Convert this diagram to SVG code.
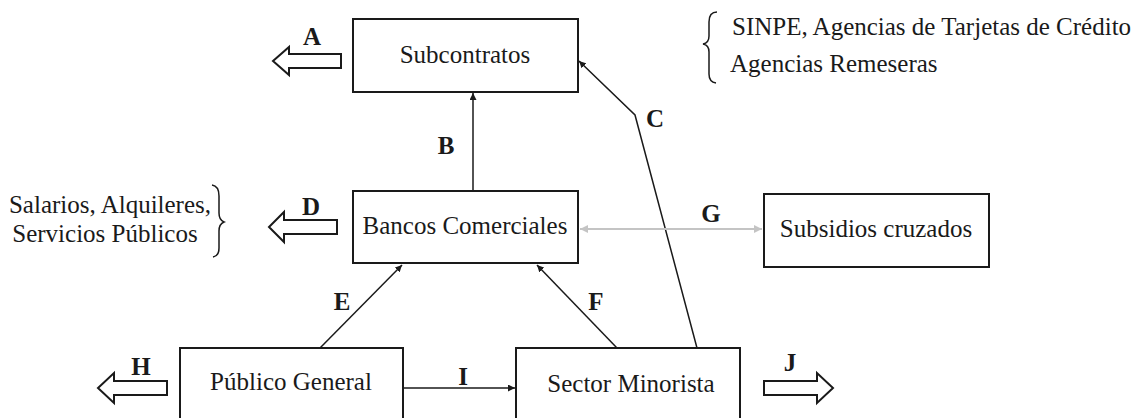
<svg xmlns="http://www.w3.org/2000/svg" width="1148" height="418" viewBox="0 0 1148 418">
<style>
.box{fill:#fff;stroke:#1a1a1a;stroke-width:2}
.t{font-family:"Liberation Serif","Times New Roman",serif;font-size:25px;fill:#1a1a1a;text-anchor:middle}
.note{font-family:"Liberation Serif","Times New Roman",serif;font-size:25px;fill:#1a1a1a}
.lbl{font-family:"Liberation Serif","Times New Roman",serif;font-size:25px;font-weight:bold;fill:#1a1a1a;text-anchor:middle}
.con{fill:none;stroke:#1a1a1a;stroke-width:1.5}
.gray{fill:none;stroke:#c4c4c4;stroke-width:2}
.big{fill:#fff;stroke:#1a1a1a;stroke-width:2;stroke-linejoin:miter}
.brace{fill:none;stroke:#1a1a1a;stroke-width:1.5}
</style>
<defs>
<marker id="ah" viewBox="0 0 10 10" refX="10" refY="5" markerWidth="7" markerHeight="7" markerUnits="userSpaceOnUse" orient="auto"><path d="M0,0 L10,5 L0,10 z" fill="#1a1a1a"/></marker>
<marker id="ahg" viewBox="0 0 10 10" refX="10" refY="5" markerWidth="8" markerHeight="8" markerUnits="userSpaceOnUse" orient="auto-start-reverse"><path d="M0,0 L10,5 L0,10 z" fill="#c4c4c4"/></marker>
</defs>
<rect width="1148" height="418" fill="#fff"/>

<g id="connectors">
<line class="con" x1="473" y1="191" x2="473" y2="93" marker-end="url(#ah)"/>
<polyline class="con" points="697,348 635,115 579,61" marker-end="url(#ah)"/>
<line class="con" x1="320" y1="348" x2="402" y2="265" marker-end="url(#ah)"/>
<line class="con" x1="617" y1="348" x2="537" y2="265" marker-end="url(#ah)"/>
<line class="gray" x1="580" y1="229" x2="762" y2="229" marker-start="url(#ahg)" marker-end="url(#ahg)"/>
<line class="con" x1="403" y1="388" x2="515" y2="388" marker-end="url(#ah)"/>
<text class="lbl" x="446" y="154">B</text>
<text class="lbl" x="655" y="127">C</text>
<text class="lbl" x="342" y="310">E</text>
<text class="lbl" x="596" y="310">F</text>
<text class="lbl" x="711" y="222">G</text>
<text class="lbl" x="463" y="385">I</text>
</g>

<g id="out-A">
<path class="big" d="M341,54 L289,54 L289,47 L273,61 L289,75 L289,68 L341,68 Z"/>
<text class="lbl" x="312" y="45">A</text>
</g>
<g id="out-D">
<path class="big" d="M337,220 L284,220 L284,212 L269,227 L284,242 L284,234 L337,234 Z"/>
<text class="lbl" x="311" y="215">D</text>
</g>
<g id="out-H">
<path class="big" d="M167,381 L114,381 L114,373 L98,388 L114,403 L114,395 L167,395 Z"/>
<text class="lbl" x="141" y="375">H</text>
</g>
<g id="out-J">
<path class="big" d="M764,381 L817,381 L817,373 L833,388 L817,403 L817,395 L764,395 Z"/>
<text class="lbl" x="790" y="371">J</text>
</g>

<g id="subcontratos">
<rect class="box" x="353" y="19" width="225" height="73"/>
<text class="t" x="465" y="63">Subcontratos</text>
</g>
<g id="bancos">
<rect class="box" x="353" y="191" width="225" height="72"/>
<text class="t" x="465" y="234">Bancos Comerciales</text>
</g>
<g id="subsidios">
<rect class="box" x="764" y="194" width="225" height="73"/>
<text class="t" x="876" y="237">Subsidios cruzados</text>
</g>
<g id="publico">
<rect class="box" x="180" y="348" width="223" height="80"/>
<text class="t" x="291" y="390">Público General</text>
</g>
<g id="sector">
<rect class="box" x="516" y="348" width="224" height="80"/>
<text class="t" x="631" y="392">Sector Minorista</text>
</g>

<g id="note-subcontratos">
<path class="brace" d="M717,12 Q709,12 709,22 L709,36 Q709,43 703,44 Q709,45 709,52 L709,74 Q709,82 716,83"/>
<text class="note" x="732" y="35">SINPE, Agencias de Tarjetas de Crédito</text>
<text class="note" x="730" y="72">Agencias Remeseras</text>
</g>
<g id="note-bancos">
<path class="brace" d="M212,185 Q219,186 219,196 L219,213 Q219,220 224,222 Q219,224 219,231 L219,248 Q219,256 213,257"/>
<text class="note" x="110" y="213" text-anchor="middle">Salarios, Alquileres,</text>
<text class="note" x="105" y="242" text-anchor="middle">Servicios Públicos</text>
</g>
</svg>
